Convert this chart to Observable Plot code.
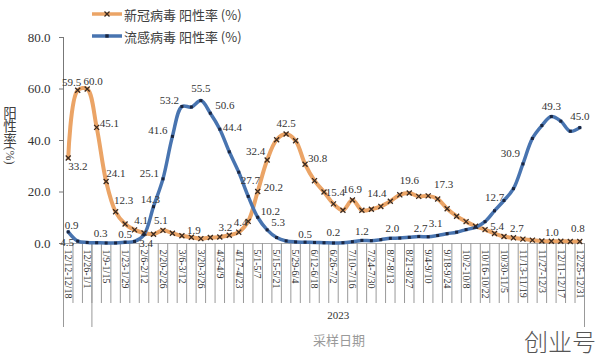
<!DOCTYPE html>
<html>
<head>
<meta charset="utf-8">
<script src="https://cdn.jsdelivr.net/npm/d3@7"></script>
<script src="https://cdn.jsdelivr.net/npm/@observablehq/plot@0.6"></script>
<style>
  body { margin: 0; background: #fff; }
  #wrap { position: relative; width: 600px; height: 362px; overflow: hidden; background: #fff; }
  .ov { position: absolute; color: #404040; font-family: "Noto Sans CJK SC", sans-serif; white-space: nowrap; }
  .leg { display: flex; align-items: center; height: 18px; font-size: 13px; }
  .leg svg { margin-right: 2px; }
</style>
</head>
<body>
<div id="wrap">
  <div id="chart"></div>
</div>
<script>
// ---- data ----
const tickLabels = ["12/12-12/18","12/26-1/1","1/9-1/15","1/23-1/29","2/6-2/12","2/20-2/26","3/6-3/12","3/20-3/26","4/3-4/9","4/17-4/23","5/1-5/7","5/15-5/21","5/29-6/4","6/12-6/18","6/26-7/2","7/10-7/16","7/24-7/30","8/7-8/13","8/21-8/27","9/4-9/10","9/18-9/24","10/2-10/8","10/16-10/22","10/30-11/5","11/13-11/19","11/27-12/3","12/11-12/17","12/25-12/31"];
const covidValues = [33.2,59.5,60.0,45.1,24.1,12.3,7.6,5.3,4.1,3.6,5.1,4.0,3.0,2.4,1.9,2.3,2.5,3.2,4.4,8.6,20.2,32.4,40.3,42.5,39.9,30.8,24.4,20.0,15.4,12.9,16.9,12.9,13.3,14.4,16.4,18.9,19.6,18.3,18.5,17.3,13.5,10.6,8.5,6.7,5.4,3.9,2.7,2.2,1.7,1.3,1.0,0.9,0.9,0.8,0.8];
const fluValues = [4.5,0.9,0.4,0.3,0.2,0.2,0.5,0.8,3.4,14.3,25.1,41.6,53.2,53.0,55.5,50.6,44.4,35.6,27.7,18.3,10.2,5.3,2.3,1.0,0.6,0.5,0.4,0.3,0.2,0.3,0.7,1.2,1.1,1.5,2.0,2.1,2.4,2.7,2.6,3.1,3.8,4.4,5.4,6.3,8.5,12.7,16.7,21.3,30.9,40.8,45.8,49.3,47.5,43.6,45.0];
const yTicks = [0, 20, 40, 60, 80];
const seriesNames = ["新冠病毒 阳性率 (%)", "流感病毒 阳性率 (%)"];
const yearGroups = [{year: "2023", first: 3, last: 54}];
const groupBreaks = [0, 3, 55]; // category index where a year group starts / ends

// ---- label placement (style only) ----
const covidLabelPlace = {0:["start",0,8],1:["middle",-6,-8],2:["middle",6,-8],3:["start",3,-4],4:["start",0,-8],5:["middle",8,-11],8:["middle",-3,-12],10:["middle",-2,-10],14:["middle",-7,-8],17:["middle",-4,-8],18:["middle",2,-10],20:["start",6,-4],21:["end",-2,-9],23:["middle",0,-11],25:["start",3,-6],28:["middle",2,-11],30:["middle",0,-11],33:["middle",-4,-13],36:["middle",0,-13],39:["middle",6,-14],44:["middle",12,-3],46:["middle",13,-8],50:["middle",10,-8],54:["middle",-2,-13]};
const fluLabelPlace = {0:["middle",-1,11],1:["middle",-6,-16],3:["middle",4,-9],6:["middle",0,-8],8:["middle",2,9],9:["middle",-3,-7],10:["end",-4,-5],11:["end",-5,-6],12:["end",-3,-6],14:["middle",0,-12],15:["start",5,-8],16:["start",3,-2],18:["start",2,8],20:["start",3,-6],21:["start",4,-7],25:["middle",0,-8],28:["middle",0,-11],31:["middle",0,-9],34:["middle",2,-10],37:["middle",2,-8],39:["middle",-2,-12],45:["middle",0,-13],48:["end",-3,-10],51:["middle",0,-10],54:["middle",0,-11]};

const orange = "#EBA466";
const blue = "#4874B0";
const covid = covidValues.map((v, i) => ({i, v}));
const flu = fluValues.map((v, i) => ({i, v}));
const n = covidValues.length;
const boundaries = d3.range(n + 1).map(i => i - 0.5);
const longBounds = groupBreaks.map(b => b - 0.5);
const labelIdx = tickLabels.map((_, k) => 2 * k);

function labelMarks(data, place) {
  return Object.entries(place).map(([k, [anchor, dx, dy]]) =>
    Plot.text([data[+k]], {x: "i", y: "v", text: d => d.v.toFixed(1), textAnchor: anchor, dx, dy,
      fontSize: 11, fill: "#333"}));
}

const chart = Plot.plot({
  width: 600, height: 362,
  marginLeft: 63, marginRight: 16, marginTop: 37, marginBottom: 119,
  x: {domain: [-0.5, n - 0.5]},
  y: {domain: [0, 80]},
  style: {fontFamily: "'Liberation Serif', 'Times New Roman', serif", background: "white", color: "#333", overflow: "visible"},
  marks: [
    Plot.axisY({ticks: yTicks, tickFormat: d => d.toFixed(1), tickSize: 4, tickPadding: 9, fontSize: 13, label: null, stroke: "#777"}),
    Plot.frame({anchor: "left", stroke: "#777"}),
    Plot.frame({anchor: "bottom", stroke: "#aaa"}),
    Plot.axisX({ticks: boundaries, tickSize: 60, tickFormat: () => "", stroke: "#999", label: null}),
    Plot.axisX({ticks: longBounds, tickSize: 84, tickFormat: () => "", stroke: "#999", label: null}),
    Plot.axisX({ticks: labelIdx, tickSize: 0, tickPadding: 6, tickRotate: 90, tickFormat: d => tickLabels[d / 2], fontSize: 10, label: null, fill: "#333"}),
    Plot.axisX({ticks: yearGroups.map(g => (g.first + g.last) / 2), tickSize: 0, tickPadding: 68, tickFormat: d => yearGroups.find(g => (g.first + g.last) / 2 === d).year, fontSize: 11, label: null, fill: "#333"}),
    Plot.line(covid, {x: "i", y: "v", stroke: orange, strokeWidth: 4, curve: "catmull-rom"}),
    Plot.line(flu, {x: "i", y: "v", stroke: blue, strokeWidth: 3.5, curve: "catmull-rom"}),
    Plot.dot(covid, {x: "i", y: "v", symbol: "times", r: 2.4, stroke: "#3a2a20", strokeWidth: 1.3}),
    Plot.dot(flu, {x: "i", y: "v", symbol: "square", r: 1.7, fill: "#1b2640", stroke: "none"}),
    ...labelMarks(covid, covidLabelPlace),
    ...labelMarks(flu, fluLabelPlace)
  ]
});
const wrap = document.getElementById("wrap");
document.getElementById("chart").appendChild(chart);

// legend overlay
function legendRow(top, color, marker, text) {
  const row = document.createElement("div");
  row.className = "ov leg";
  row.style.left = "92px";
  row.style.top = top + "px";
  const mk = marker === "x"
    ? `<path d="M12.5,2.5 L17.5,7.5 M17.5,2.5 L12.5,7.5" stroke="#3a2a20" stroke-width="1.3"/>`
    : `<rect x="13.3" y="3.3" width="3.4" height="3.4" fill="#1b2640"/>`;
  row.innerHTML = `<svg width="30" height="10"><line x1="0" y1="5" x2="30" y2="5" stroke="${color}" stroke-width="3.5"/>${mk}</svg><span>${text}</span>`;
  wrap.appendChild(row);
}
legendRow(5, orange, "x", seriesNames[0]);
legendRow(27, blue, "s", seriesNames[1]);

// y title (vertical writing: CJK upright, "(%)" turned sideways)
const yt = document.createElement("div");
yt.className = "ov";
yt.style.cssText += "left:1px;top:106px;writing-mode:vertical-rl;font-size:13.5px;line-height:18px;color:#404040";
yt.innerHTML = "<span style='text-orientation:upright'>阳性率</span><span style='text-orientation:sideways;font-family:Liberation Serif,serif;font-size:12px'>(%)</span>";
wrap.appendChild(yt);

// x title
const xt = document.createElement("div");
xt.className = "ov";
xt.style.cssText += "left:313px;top:330px;font-size:13px;color:#9a9a9a";
xt.textContent = "采样日期";
wrap.appendChild(xt);

// watermark
const wm = document.createElement("div");
wm.className = "ov";
wm.style.cssText += "left:524px;top:323px;font-size:24px;color:#555;font-weight:300";
wm.textContent = "创业号";
wrap.appendChild(wm);
</script>
</body>
</html>
